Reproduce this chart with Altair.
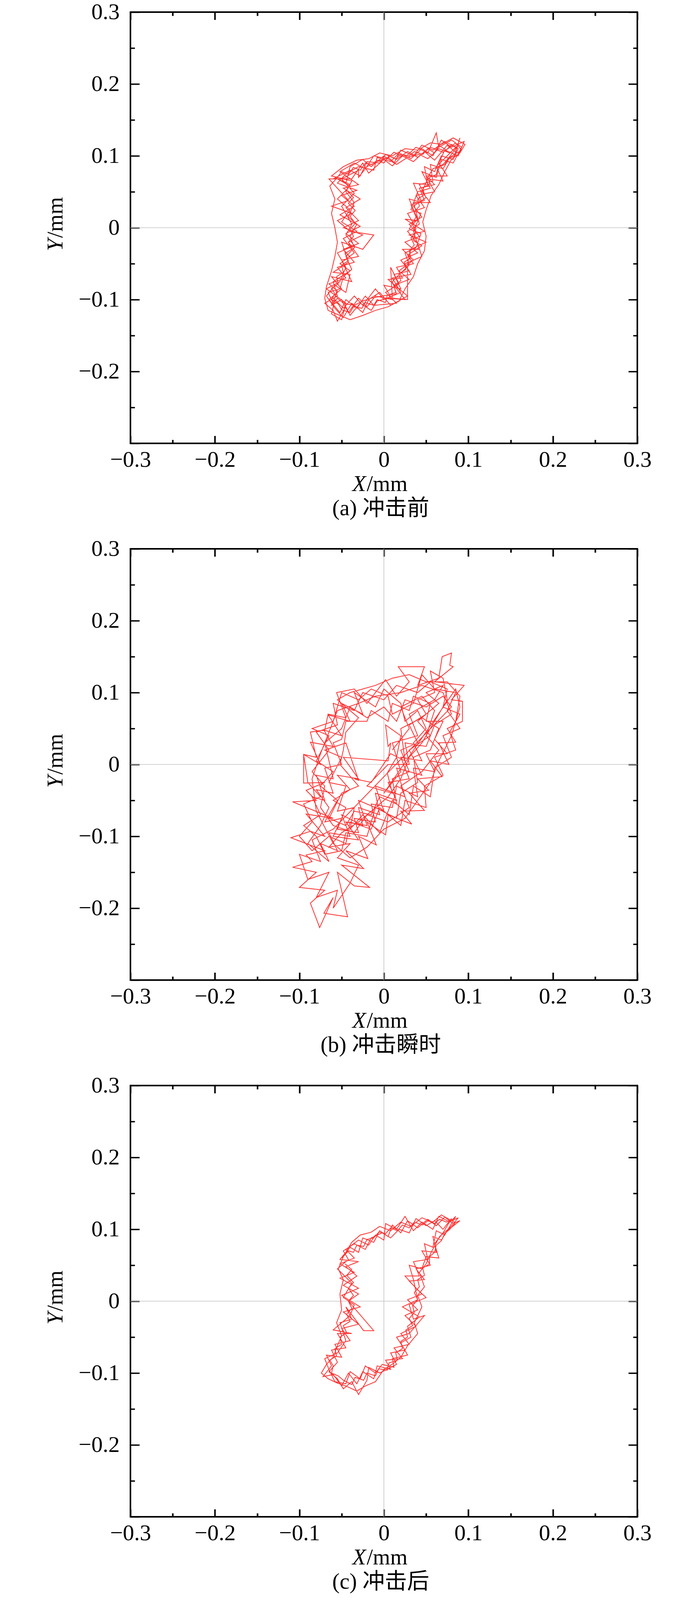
import altair as alt
import pandas as pd

# ---------------- data (mm) ----------------
PTS_A = [
    (-0.060, 0.068), (-0.040, 0.080), (-0.028, 0.072), (-0.020, 0.092), (-0.005, 0.090), (0.002, 0.102),
    (0.015, 0.095), (0.028, 0.106), (0.040, 0.098), (0.055, 0.112), (0.070, 0.105), (0.085, 0.118),
    (0.092, 0.108), (0.078, 0.098), (0.070, 0.082), (0.055, 0.088), (0.058, 0.065), (0.042, 0.060),
    (0.050, 0.042), (0.035, 0.030), (0.045, 0.015), (0.030, 0.005), (0.042, -0.012), (0.025, -0.020),
    (0.040, -0.035), (0.020, -0.045), (0.030, -0.060), (0.012, -0.065), (0.020, -0.085), (0.000, -0.080),
    (0.010, -0.100), (-0.010, -0.095), (-0.020, -0.110), (-0.030, -0.098), (-0.042, -0.118), (-0.050, -0.100),
    (-0.062, -0.108), (-0.055, -0.088), (-0.065, -0.078), (-0.045, -0.070), (-0.055, -0.055), (-0.035, -0.048),
    (-0.048, -0.030), (-0.030, -0.022), (-0.045, -0.008), (-0.028, 0.002), (-0.052, 0.018), (-0.035, 0.030),
    (-0.050, 0.045), (-0.032, 0.052), (-0.055, 0.062),
    (-0.045, 0.075), (-0.030, 0.085), (-0.012, 0.080), (-0.008, 0.098), (0.008, 0.092), (0.018, 0.104),
    (0.032, 0.096), (0.045, 0.110), (0.058, 0.100), (0.068, 0.122), (0.080, 0.112), (0.095, 0.120),
    (0.088, 0.100), (0.072, 0.108), (0.065, 0.090), (0.075, 0.072), (0.050, 0.072), (0.060, 0.050),
    (0.038, 0.045), (0.048, 0.028), (0.028, 0.020), (0.038, 0.000), (0.035, -0.018), (0.045, -0.025),
    (0.028, -0.038), (0.035, -0.050), (0.015, -0.055), (0.022, -0.070), (0.005, -0.072), (0.028, -0.095),
    (0.008, -0.108), (-0.005, -0.090), (-0.018, -0.100), (-0.025, -0.118), (-0.038, -0.105), (-0.048, -0.125),
    (-0.058, -0.112), (-0.068, -0.095), (-0.058, -0.080), (-0.045, -0.090), (-0.040, -0.065), (-0.060, -0.062),
    (-0.042, -0.048), (-0.050, -0.020), (-0.025, -0.030), (-0.012, -0.010), (-0.040, -0.005), (-0.055, 0.010),
    (-0.038, 0.020), (-0.062, 0.030), (-0.042, 0.038), (-0.065, 0.068),
    (-0.038, 0.068), (-0.025, 0.090), (-0.018, 0.076), (0.000, 0.095), (0.010, 0.086), (0.022, 0.100),
    (0.035, 0.092), (0.048, 0.106), (0.060, 0.094), (0.075, 0.115), (0.085, 0.105), (0.090, 0.125),
    (0.082, 0.095), (0.068, 0.100), (0.060, 0.078), (0.048, 0.085), (0.052, 0.060), (0.035, 0.062),
    (0.045, 0.035), (0.030, 0.040), (0.040, 0.010), (0.025, 0.012), (0.048, -0.005), (0.030, -0.010),
    (0.050, -0.020), (0.032, -0.030), (0.028, -0.050), (0.028, -0.100), (0.010, -0.098), (0.008, -0.055),
    (0.018, -0.078), (0.002, -0.090), (0.015, -0.105), (-0.012, -0.108), (-0.022, -0.095), (-0.032, -0.112),
    (-0.045, -0.100), (-0.052, -0.118), (-0.065, -0.100), (-0.050, -0.085), (-0.062, -0.068), (-0.038, -0.075),
    (-0.050, -0.045), (-0.030, -0.040), (-0.042, -0.020), (-0.025, -0.010), (-0.048, 0.000), (-0.030, 0.010),
    (-0.045, 0.028), (-0.028, 0.040), (-0.048, 0.055), (-0.030, 0.060),
    (-0.052, 0.078), (-0.035, 0.090), (-0.022, 0.082), (-0.012, 0.100), (0.004, 0.096), (0.012, 0.105),
    (0.025, 0.098), (0.038, 0.112), (0.052, 0.104), (0.062, 0.132), (0.065, 0.112), (0.080, 0.122),
    (0.092, 0.112), (0.082, 0.090), (0.068, 0.095), (0.062, 0.070), (0.045, 0.078), (0.055, 0.055),
    (0.040, 0.050), (0.032, 0.025), (0.044, 0.020), (0.035, -0.005), (0.042, -0.030), (0.022, -0.030),
    (0.035, -0.045), (0.018, -0.060), (0.030, -0.072), (0.012, -0.080), (0.025, -0.100), (0.005, -0.098),
    (-0.008, -0.102), (-0.015, -0.115), (-0.028, -0.105), (-0.040, -0.122), (-0.045, -0.110), (-0.055, -0.130),
    (-0.060, -0.115), (-0.070, -0.105), (-0.055, -0.095), (-0.060, -0.075), (-0.040, -0.060), (-0.052, -0.050),
    (-0.035, -0.035), (-0.048, -0.015), (-0.032, -0.005), (-0.050, 0.008), (-0.040, 0.025), (-0.055, 0.040),
    (-0.040, 0.058), (-0.058, 0.070),
    (-0.045, 0.062), (-0.040, 0.085), (-0.025, 0.095), (-0.015, 0.085), (0.000, 0.100), (0.012, 0.090),
    (0.020, 0.108), (0.035, 0.100), (0.045, 0.115), (0.058, 0.108), (0.072, 0.120), (0.085, 0.112),
    (0.075, 0.100), (0.062, 0.085), (0.070, 0.065), (0.052, 0.068), (0.045, 0.050), (0.055, 0.035),
    (0.035, 0.035), (0.042, 0.005), (0.028, -0.005), (0.040, -0.022), (0.045, -0.040), (0.025, -0.050),
    (0.032, -0.065), (0.010, -0.070), (0.020, -0.090), (0.000, -0.100), (-0.010, -0.085), (-0.025, -0.108),
    (-0.035, -0.095), (-0.048, -0.112), (-0.058, -0.100), (-0.062, -0.120), (-0.050, -0.128), (-0.045, -0.105),
    (-0.068, -0.085), (-0.052, -0.075), (-0.045, -0.055), (-0.055, -0.035), (-0.035, -0.025), (-0.045, -0.010),
    (-0.038, 0.005), (-0.050, 0.030), (-0.035, 0.048), (-0.050, 0.068), (-0.030, 0.080),
    (-0.030, 0.070), (-0.020, 0.085), (-0.008, 0.092), (0.005, 0.098), (0.015, 0.088), (0.028, 0.098),
    (0.042, 0.102), (0.052, 0.096), (0.065, 0.110), (0.078, 0.104), (0.088, 0.115), (0.080, 0.102),
    (0.070, 0.088), (0.058, 0.082), (0.052, 0.070), (0.060, 0.060), (0.042, 0.055), (0.048, 0.038),
    (0.032, 0.032), (0.038, 0.015), (0.030, -0.002), (0.044, -0.008), (0.038, -0.028), (0.025, -0.035),
    (0.030, -0.052), (0.018, -0.065), (0.010, -0.075), (0.015, -0.092), (-0.002, -0.095), (-0.015, -0.098),
    (-0.025, -0.102), (-0.035, -0.108), (-0.048, -0.105), (-0.055, -0.098), (-0.060, -0.105), (-0.066, -0.090),
    (-0.052, -0.085), (-0.048, -0.068), (-0.038, -0.058), (-0.045, -0.040), (-0.035, -0.028), (-0.040, -0.012),
    (-0.032, 0.005), (-0.042, 0.015), (-0.035, 0.035), (-0.045, 0.050), (-0.038, 0.065),
    (-0.062, 0.072), (-0.048, 0.085), (-0.032, 0.094), (-0.018, 0.096), (-0.005, 0.104), (0.010, 0.100),
    (0.025, 0.110), (0.040, 0.108), (0.055, 0.118), (0.068, 0.116), (0.082, 0.125), (0.096, 0.116),
    (0.090, 0.104), (0.080, 0.095), (0.072, 0.078), (0.065, 0.060), (0.056, 0.045), (0.050, 0.025),
    (0.046, 0.008), (0.050, -0.012), (0.048, -0.032), (0.040, -0.050), (0.035, -0.068), (0.025, -0.085),
    (0.018, -0.102), (0.005, -0.110), (-0.010, -0.115), (-0.025, -0.122), (-0.040, -0.128), (-0.052, -0.122),
    (-0.066, -0.115), (-0.070, -0.098), (-0.068, -0.082), (-0.062, -0.060), (-0.058, -0.040), (-0.055, -0.020),
    (-0.058, 0.000), (-0.062, 0.020), (-0.058, 0.040), (-0.064, 0.058),
    (-0.055, 0.070), (-0.050, 0.078), (-0.042, 0.074), (-0.036, 0.084), (-0.028, 0.080), (-0.022, 0.090),
    (-0.014, 0.088), (-0.008, 0.094), (0.000, 0.090), (0.006, 0.100), (0.014, 0.096), (0.020, 0.102),
    (0.030, 0.100), (0.036, 0.106), (0.046, 0.102), (0.052, 0.110), (0.060, 0.104), (0.066, 0.114),
    (0.074, 0.108), (0.080, 0.116), (0.088, 0.110), (0.084, 0.100), (0.076, 0.096), (0.072, 0.088),
    (0.064, 0.084), (0.062, 0.074), (0.054, 0.070), (0.054, 0.060), (0.046, 0.056), (0.048, 0.046),
    (0.040, 0.040), (0.042, 0.030), (0.036, 0.022), (0.040, 0.012), (0.034, 0.004), (0.038, -0.006),
    (0.032, -0.014), (0.036, -0.024), (0.030, -0.032), (0.032, -0.042), (0.024, -0.048), (0.026, -0.058),
    (0.018, -0.064), (0.020, -0.074), (0.012, -0.080), (0.014, -0.090), (0.004, -0.094), (0.002, -0.104),
    (-0.008, -0.100), (-0.012, -0.108), (-0.022, -0.104), (-0.026, -0.112), (-0.036, -0.110), (-0.040, -0.118),
    (-0.050, -0.114), (-0.054, -0.106), (-0.062, -0.100), (-0.058, -0.092), (-0.062, -0.084), (-0.054, -0.078),
    (-0.056, -0.068), (-0.048, -0.062), (-0.050, -0.052), (-0.042, -0.046), (-0.046, -0.036), (-0.038, -0.030),
    (-0.042, -0.020), (-0.036, -0.012), (-0.040, -0.002), (-0.034, 0.006), (-0.040, 0.016), (-0.034, 0.024),
    (-0.042, 0.034), (-0.036, 0.042), (-0.044, 0.052), (-0.040, 0.060), (-0.050, 0.066),
]

PTS_B = [
    (0.010, 0.020), (0.030, 0.050), (0.020, 0.080), (0.045, 0.095), (0.060, 0.075), (0.050, 0.040),
    (0.065, 0.020), (0.045, -0.010), (0.020, -0.030), (0.030, -0.060), (0.005, -0.080), (-0.020, -0.070),
    (-0.035, -0.095), (-0.060, -0.085), (-0.075, -0.060), (-0.070, -0.030), (-0.085, -0.010), (-0.065, 0.020),
    (-0.080, 0.045), (-0.055, 0.055), (-0.060, 0.085), (-0.035, 0.075), (-0.025, 0.100), (0.000, 0.090),
    (0.015, 0.110), (0.040, 0.100), (0.055, 0.115), (0.075, 0.105), (0.070, 0.080), (0.090, 0.070),
    (0.078, 0.045), (0.085, 0.020), (0.060, 0.010), (0.070, -0.015), (0.048, -0.030), (0.050, -0.060),
    (0.025, -0.050), (0.020, -0.085), (-0.005, -0.060), (-0.015, -0.090), (-0.040, -0.080), (-0.045, -0.110),
    (-0.065, -0.100), (-0.085, -0.120), (-0.100, -0.100), (-0.085, -0.080), (-0.095, -0.055), (-0.075, -0.045),
    (-0.090, -0.025), (-0.095, 0.014), (-0.080, 0.010), (-0.087, 0.045), (-0.070, 0.048), (-0.066, 0.070),
    (-0.045, 0.065), (-0.056, 0.100), (-0.035, 0.105), (-0.020, 0.085), (0.002, 0.118), (0.015, 0.095),
    (0.030, 0.115), (0.017, 0.136), (0.048, 0.136), (0.040, 0.110), (0.065, 0.120), (0.069, 0.150),
    (0.080, 0.155), (0.078, 0.138), (0.082, 0.136), (0.060, 0.115), (0.095, 0.110), (0.080, 0.090),
    (0.093, 0.088), (0.093, 0.060), (0.075, 0.050), (0.085, 0.031), (0.065, 0.030), (0.077, 0.000),
    (0.055, 0.005), (0.069, -0.017), (0.040, -0.020), (0.053, -0.036), (0.030, -0.040), (0.048, -0.064),
    (0.020, -0.065), (0.033, -0.083), (0.005, -0.070), (0.002, -0.098), (-0.020, -0.080), (-0.009, -0.112),
    (-0.030, -0.100), (-0.019, -0.131), (-0.045, -0.120), (-0.024, -0.145), (-0.050, -0.140), (-0.017, -0.171),
    (-0.035, -0.169), (-0.055, -0.150), (-0.043, -0.212), (-0.071, -0.207), (-0.060, -0.185), (-0.076, -0.227),
    (-0.087, -0.193), (-0.070, -0.175), (-0.100, -0.171), (-0.080, -0.150), (-0.108, -0.143), (-0.085, -0.135),
    (-0.092, -0.126), (-0.070, -0.120), (-0.110, -0.102), (-0.087, -0.093), (-0.070, -0.100), (-0.092, -0.069),
    (-0.060, -0.075), (-0.108, -0.052), (-0.080, -0.050), (-0.092, -0.036), (-0.070, -0.025), (-0.095, -0.026),
    (-0.095, 0.014), (-0.075, 0.000), (-0.087, 0.031), (-0.060, 0.025), (-0.071, 0.048), (-0.050, 0.040),
    (-0.066, 0.069), (-0.040, 0.060), (-0.050, 0.085), (-0.025, 0.070), (-0.035, 0.100), (-0.010, 0.080),
    (0.000, 0.105), (0.020, 0.085), (0.025, 0.060), (0.040, 0.075), (0.050, 0.050), (0.035, 0.030),
    (0.045, 0.005), (0.020, 0.010), (0.030, -0.020), (0.005, -0.025), (0.015, -0.050), (-0.010, -0.040),
    (-0.005, -0.070), (-0.030, -0.060), (-0.025, -0.085), (-0.050, -0.070), (-0.040, -0.100), (-0.065, -0.095),
    (-0.055, -0.120), (-0.075, -0.110), (-0.065, -0.135), (-0.090, -0.110), (-0.075, -0.085), (-0.065, -0.060),
    (-0.080, -0.035), (-0.060, -0.040), (-0.070, -0.005), (-0.050, 0.000), (-0.060, 0.030), (-0.050, 0.035),
    (-0.045, 0.060), (-0.020, 0.060), (-0.015, 0.075), (0.005, 0.060), (0.010, 0.085), (0.030, 0.075),
    (0.035, 0.095), (0.055, 0.085), (0.050, 0.060), (0.070, 0.060), (0.060, 0.035), (0.075, 0.015),
    (0.050, 0.015), (0.060, -0.010), (0.035, -0.005), (0.040, -0.045), (0.015, -0.030), (0.010, -0.060),
    (-0.015, -0.055), (-0.010, -0.080), (-0.035, -0.075), (-0.030, -0.095), (-0.055, -0.090), (-0.045, -0.060),
    (-0.060, -0.050), (-0.040, -0.035), (-0.055, -0.015), (-0.030, -0.020), (-0.048, 0.010), (0.005, 0.005),
    (0.008, 0.030), (0.005, 0.025), (0.002, 0.055), (0.020, 0.040), (0.015, 0.010), (0.004, -0.012),
    (0.010, -0.040), (-0.020, -0.030), (0.005, 0.000), (0.030, 0.000), (0.025, 0.030), (0.050, 0.025),
    (0.060, 0.055), (0.080, 0.070), (0.070, 0.100), (0.045, 0.110), (0.020, 0.100), (-0.010, 0.095),
    (-0.030, 0.085), (-0.055, 0.075), (-0.065, 0.045), (-0.075, 0.015), (-0.085, -0.020), (-0.080, -0.065),
    (-0.060, -0.110), (-0.040, -0.130), (-0.020, -0.115), (0.000, -0.090), (0.025, -0.075), (0.040, -0.050),
    (0.055, -0.025), (0.065, 0.005), (0.080, 0.040), (0.090, 0.080), (0.085, 0.105),
    (0.000, -0.040), (0.020, -0.010), (0.010, 0.030), (0.040, 0.040), (0.030, 0.070), (0.060, 0.090),
    (0.070, 0.110), (0.050, 0.100), (0.065, 0.085), (0.040, 0.060), (0.055, 0.040), (0.030, 0.020),
    (0.045, -0.015), (0.015, -0.005), (0.025, -0.045), (-0.010, -0.030), (0.000, -0.065), (-0.030, -0.050),
    (-0.020, -0.085), (-0.045, -0.080), (-0.030, -0.105), (-0.060, -0.100), (-0.050, -0.075), (-0.070, -0.080),
    (-0.055, -0.050), (-0.075, -0.030), (-0.060, -0.010), (-0.080, 0.005), (-0.065, 0.040), (-0.085, 0.050),
    (-0.060, 0.060), (-0.050, 0.100), (-0.030, 0.090), (-0.015, 0.105), (0.005, 0.095), (0.010, 0.070),
    (0.035, 0.085), (0.045, 0.125), (0.060, 0.105), (0.085, 0.100), (0.075, 0.075), (0.090, 0.050),
    (0.070, 0.040), (0.080, 0.010), (0.060, -0.005), (0.055, -0.045), (0.035, -0.030), (0.030, -0.070),
    (0.010, -0.050), (-0.005, -0.095), (-0.025, -0.070), (-0.040, -0.090), (-0.035, -0.060), (-0.055, -0.065),
    (-0.045, -0.030), (-0.065, -0.025), (-0.050, 0.010), (-0.070, 0.020), (-0.045, 0.030), (-0.030, -0.022),
    (-0.035, -0.020), (-0.015, -0.025), (0.008, 0.015), (0.025, 0.005), (0.020, 0.050), (0.045, 0.065),
    (0.065, 0.050), (0.055, 0.020), (0.035, 0.010), (0.040, -0.025), (0.020, -0.040), (0.015, -0.075),
    (-0.010, -0.060), (-0.020, -0.100), (-0.045, -0.095), (-0.050, -0.120), (-0.070, -0.125), (-0.080, -0.100),
    (-0.095, -0.085), (-0.075, -0.070), (-0.085, -0.045), (-0.070, -0.050), (-0.080, -0.015), (-0.060, -0.020),
    (-0.070, 0.030), (-0.050, 0.050), (-0.040, 0.080), (-0.020, 0.065), (0.000, 0.080), (0.015, 0.060),
    (0.025, 0.090), (0.050, 0.080), (0.070, 0.095), (0.080, 0.080),
    (-0.060, -0.090), (-0.085, -0.105), (-0.075, -0.135), (-0.100, -0.125), (-0.090, -0.160), (-0.065, -0.150),
    (-0.080, -0.185), (-0.055, -0.175), (-0.060, -0.200), (-0.040, -0.165), (-0.030, -0.140), (-0.055, -0.130),
    (-0.040, -0.110), (-0.065, -0.115), (-0.050, -0.095), (-0.030, -0.080), (-0.010, -0.060), (0.005, -0.045),
    (0.020, -0.020), (0.030, 0.010), (0.045, 0.030), (0.060, 0.060), (0.075, 0.090), (0.070, 0.120),
    (0.055, 0.130), (0.060, 0.100), (0.040, 0.090), (0.050, 0.070), (0.030, 0.055), (0.040, 0.030),
    (0.020, 0.020), (0.030, -0.010), (0.010, -0.020), (0.015, -0.055), (-0.005, -0.045), (-0.015, -0.070),
    (-0.035, -0.065), (-0.045, -0.085), (-0.065, -0.075), (-0.050, -0.040), (-0.030, -0.030), (-0.052, 0.000),
    (-0.048, 0.020), (-0.045, 0.045), (-0.030, 0.065), (-0.055, 0.090), (-0.040, 0.100), (-0.010, 0.110),
    (0.010, 0.120), (0.030, 0.125), (0.050, 0.115), (0.075, 0.115), (0.090, 0.095), (0.085, 0.060),
]

PTS_C = [
    (-0.050, 0.060), (-0.040, 0.075), (-0.030, 0.068), (-0.025, 0.088), (-0.012, 0.082), (-0.005, 0.098),
    (0.005, 0.090), (0.010, 0.106), (0.020, 0.095), (0.028, 0.112), (0.040, 0.102), (0.052, 0.114),
    (0.062, 0.105), (0.072, 0.117), (0.082, 0.108), (0.090, 0.112), (0.075, 0.098), (0.068, 0.085),
    (0.058, 0.090), (0.062, 0.068), (0.045, 0.070), (0.055, 0.050), (0.038, 0.045), (0.048, 0.030),
    (0.030, 0.028), (0.045, 0.010), (0.028, 0.002), (0.040, -0.012), (0.025, -0.020), (0.038, -0.035),
    (0.020, -0.045), (0.030, -0.060), (0.012, -0.065), (0.022, -0.080), (0.002, -0.082), (0.008, -0.095),
    (-0.008, -0.090), (-0.012, -0.108), (-0.025, -0.098), (-0.032, -0.115), (-0.042, -0.100), (-0.050, -0.118),
    (-0.060, -0.102), (-0.072, -0.105), (-0.062, -0.090), (-0.068, -0.075), (-0.050, -0.078), (-0.058, -0.060),
    (-0.040, -0.055), (-0.050, -0.038), (-0.030, -0.032), (-0.048, -0.015), (-0.028, -0.008), (-0.050, 0.008),
    (-0.030, 0.018), (-0.052, 0.032), (-0.035, 0.040), (-0.052, 0.052),
    (-0.035, 0.060), (-0.045, 0.072), (-0.030, 0.085), (-0.018, 0.078), (-0.010, 0.092), (0.000, 0.085),
    (0.002, 0.108), (0.015, 0.100), (0.025, 0.118), (0.035, 0.098), (0.045, 0.110), (0.058, 0.100),
    (0.065, 0.118), (0.078, 0.110), (0.085, 0.118), (0.072, 0.092), (0.062, 0.098), (0.058, 0.075),
    (0.048, 0.080), (0.052, 0.058), (0.035, 0.055), (0.042, 0.035), (0.025, 0.035), (0.038, 0.018),
    (0.050, 0.005), (0.030, -0.005), (0.035, -0.025), (0.048, -0.020), (0.030, -0.045), (0.015, -0.050),
    (0.025, -0.068), (0.008, -0.072), (0.015, -0.088), (-0.005, -0.100), (-0.018, -0.092), (-0.020, -0.110),
    (-0.030, -0.130), (-0.038, -0.112), (-0.048, -0.122), (-0.055, -0.108), (-0.065, -0.098), (-0.055, -0.085),
    (-0.062, -0.068), (-0.045, -0.065), (-0.055, -0.045), (-0.038, -0.045), (-0.060, -0.040), (-0.040, -0.020),
    (-0.035, -0.005), (-0.048, 0.005), (-0.038, 0.025), (-0.055, 0.045), (-0.042, 0.058),
    (-0.048, 0.070), (-0.035, 0.080), (-0.022, 0.072), (-0.015, 0.088), (-0.002, 0.095), (0.008, 0.088),
    (0.018, 0.100), (0.030, 0.095), (0.038, 0.115), (0.050, 0.105), (0.060, 0.112), (0.070, 0.100),
    (0.080, 0.115), (0.070, 0.095), (0.060, 0.080), (0.065, 0.060), (0.050, 0.062), (0.045, 0.045),
    (0.030, 0.050), (0.035, 0.030), (0.040, 0.002), (0.022, -0.008), (0.042, -0.022), (0.028, -0.035),
    (0.032, -0.050), (0.020, -0.058), (0.028, -0.075), (0.010, -0.080), (0.012, -0.092), (-0.002, -0.088),
    (-0.010, -0.100), (-0.022, -0.090), (-0.028, -0.108), (-0.040, -0.098), (-0.045, -0.115), (-0.058, -0.112),
    (-0.065, -0.095), (-0.070, -0.080), (-0.055, -0.072), (-0.045, -0.055), (-0.052, -0.030), (-0.038, -0.025),
    (-0.045, -0.008), (-0.024, -0.041), (-0.012, -0.041), (-0.042, 0.000), (-0.030, 0.010), (-0.048, 0.022),
    (-0.032, 0.035), (-0.045, 0.048), (-0.030, 0.055),
    (-0.052, 0.058), (-0.045, 0.068), (-0.038, 0.082), (-0.028, 0.092), (-0.015, 0.096), (-0.005, 0.104),
    (0.008, 0.098), (0.020, 0.110), (0.032, 0.104), (0.045, 0.116), (0.058, 0.110), (0.068, 0.120),
    (0.080, 0.112), (0.088, 0.116), (0.078, 0.102), (0.066, 0.090), (0.056, 0.068), (0.050, 0.052),
    (0.042, 0.040), (0.048, 0.020), (0.040, 0.008), (0.045, -0.008), (0.036, -0.030), (0.040, -0.045),
    (0.028, -0.062), (0.020, -0.078), (0.012, -0.086), (0.000, -0.095), (-0.010, -0.112), (-0.022, -0.118),
    (-0.032, -0.125), (-0.045, -0.118), (-0.055, -0.114), (-0.066, -0.108), (-0.074, -0.100), (-0.068, -0.088),
    (-0.060, -0.078), (-0.055, -0.062), (-0.050, -0.048), (-0.056, -0.030), (-0.050, -0.012), (-0.052, 0.010),
    (-0.048, 0.030), (-0.054, 0.045),
    (-0.048, 0.062), (-0.042, 0.070), (-0.036, 0.068), (-0.032, 0.078), (-0.024, 0.076), (-0.020, 0.086),
    (-0.012, 0.088), (-0.006, 0.096), (0.002, 0.094), (0.008, 0.102), (0.016, 0.098), (0.022, 0.106),
    (0.030, 0.102), (0.036, 0.110), (0.046, 0.106), (0.052, 0.112), (0.060, 0.108), (0.066, 0.114),
    (0.074, 0.110), (0.080, 0.114), (0.084, 0.108), (0.078, 0.100), (0.072, 0.094), (0.068, 0.084),
    (0.062, 0.078), (0.060, 0.068), (0.054, 0.062), (0.054, 0.052), (0.046, 0.046), (0.048, 0.036),
    (0.040, 0.030), (0.042, 0.020), (0.036, 0.012), (0.040, 0.002), (0.034, -0.006), (0.036, -0.016),
    (0.030, -0.024), (0.034, -0.034), (0.026, -0.040), (0.028, -0.050), (0.020, -0.056), (0.022, -0.066),
    (0.014, -0.072), (0.016, -0.082), (0.006, -0.086), (0.004, -0.096), (-0.006, -0.094), (-0.010, -0.104),
    (-0.020, -0.100), (-0.024, -0.110), (-0.034, -0.106), (-0.038, -0.116), (-0.048, -0.110), (-0.054, -0.104),
    (-0.062, -0.100), (-0.060, -0.090), (-0.064, -0.082), (-0.056, -0.076), (-0.058, -0.066), (-0.050, -0.060),
    (-0.052, -0.050), (-0.044, -0.044), (-0.048, -0.034), (-0.040, -0.028), (-0.044, -0.018), (-0.038, -0.010),
    (-0.042, 0.000), (-0.036, 0.008), (-0.042, 0.018), (-0.036, 0.026), (-0.044, 0.036), (-0.038, 0.044),
    (-0.046, 0.052),
]

CAPTIONS = ["(a) 冲击前", "(b) 冲击瞬时", "(c) 冲击后"]
MAJOR_TICKS = [-0.3, -0.2, -0.1, 0.0, 0.1, 0.2, 0.3]
MINOR_TICKS = [-0.25, -0.15, -0.05, 0.05, 0.15, 0.25]
Y_LABELS = [-0.2, -0.1, 0.0, 0.1, 0.2, 0.3]
ZERO_LINE = [0.0]

# ---------------- layout / style ----------------
W, H = 1298, 1104
SERIF = "Liberation Serif"
MIXED = "Liberation Serif, Noto Sans CJK SC"
TICK_FS = 58
TITLE_FS = 57


def tick_axis(orient, offset, values, size, width):
    return alt.Axis(orient=orient, offset=offset, values=values, labels=False,
                    domain=False, grid=False, ticks=True, tickSize=size,
                    tickWidth=width, tickColor="black", title=None)


def text_layer(txt, x, y, **kw):
    return alt.Chart(pd.DataFrame({"t": [txt]})).mark_text(**kw).encode(
        text="t:N", x=alt.value(x), y=alt.value(y))


def panel(pts, caption):
    xsc = alt.Scale(domain=[-0.3, 0.3], nice=False, zero=False)
    ysc = alt.Scale(domain=[-0.3, 0.3], nice=False, zero=False)
    df = pd.DataFrame({"x": [p[0] for p in pts], "y": [p[1] for p in pts],
                       "i": list(range(len(pts)))})
    zero_df = pd.DataFrame({"v": ZERO_LINE})

    vline = alt.Chart(zero_df).mark_rule(color="#c4c4c4", strokeWidth=1.6).encode(
        x=alt.X("v:Q", scale=xsc, axis=None))
    hline = alt.Chart(zero_df).mark_rule(color="#c4c4c4", strokeWidth=1.6).encode(
        y=alt.Y("v:Q", scale=ysc, axis=None))

    line = alt.Chart(df).mark_line(color="#ff1a1a", strokeWidth=2, opacity=0.9).encode(
        x=alt.X("x:Q", scale=xsc, axis=alt.Axis(
            orient="bottom", values=MAJOR_TICKS, format=".1~f", ticks=False, tickSize=0,
            domain=False, grid=False, title=None, labelFont=SERIF, labelFontSize=TICK_FS,
            labelColor="black", labelPadding=59, labelBaseline="alphabetic",
            labelFlush=False, labelOverlap=False, labelBound=False)),
        y=alt.Y("y:Q", scale=ysc, axis=alt.Axis(
            orient="left", values=Y_LABELS, format=".1~f", ticks=False, tickSize=0,
            domain=False, grid=False, title=None, labelFont=SERIF, labelFontSize=TICK_FS,
            labelColor="black", labelPadding=28, labelFlush=False, labelOverlap=False,
            labelBound=False)),
        order="i:Q")

    tdf = pd.DataFrame({"x": [0.0], "y": [0.0]})

    def tlayer(xo, yo, vals, xsize, ysize):
        return alt.Chart(tdf).mark_point(opacity=0).encode(
            x=alt.X("x:Q", scale=xsc, axis=tick_axis(xo, -H, vals, xsize, 4)),
            y=alt.Y("y:Q", scale=ysc, axis=tick_axis(yo, -W, vals, ysize, 3.5)))

    t1 = tlayer("top", "right", MAJOR_TICKS, 19.5, 23)
    t2 = tlayer("bottom", "left", MAJOR_TICKS, 19.5, 23)
    t3 = tlayer("top", "right", MINOR_TICKS, 9.3, 11)
    t4 = tlayer("bottom", "left", MINOR_TICKS, 9.3, 11)

    split_x = W / 2 - 45
    xt1 = text_layer("X", split_x - 1, H + 122, align="right", baseline="alphabetic",
                     font=SERIF, fontSize=TITLE_FS, fontStyle="italic", color="black")
    xt2 = text_layer("/mm", split_x + 1, H + 122, align="left", baseline="alphabetic",
                     font=SERIF, fontSize=TITLE_FS, color="black")
    split_y = H / 2 + 27
    yt1 = text_layer("Y", -174, split_y + 1, align="right", baseline="alphabetic", angle=270,
                     font=SERIF, fontSize=TITLE_FS, fontStyle="italic", color="black")
    yt2 = text_layer("/mm", -174, split_y - 1, align="left", baseline="alphabetic", angle=270,
                     font=SERIF, fontSize=TITLE_FS, color="black")
    cap = text_layer(caption, W / 2 - 8, H + 184, align="center", baseline="alphabetic",
                     font=MIXED, fontSize=TITLE_FS, color="black")

    return alt.layer(vline, hline, line, t1, t2, t3, t4, xt1, xt2, yt1, yt2, cap).resolve_scale(
        x="shared", y="shared").resolve_axis(x="independent", y="independent").properties(
        width=W, height=H)


chart = alt.vconcat(
    panel(PTS_A, CAPTIONS[0]),
    panel(PTS_B, CAPTIONS[1]),
    panel(PTS_C, CAPTIONS[2]),
    spacing=270, bounds="flush",
).properties(
    padding={"left": 104, "top": -8, "right": 20, "bottom": 5}, background="white"
).configure_view(stroke="black", strokeWidth=4).configure_axis(labelFont=SERIF)

chart.save("out.html", embed_options={"renderer": "svg", "actions": False})
